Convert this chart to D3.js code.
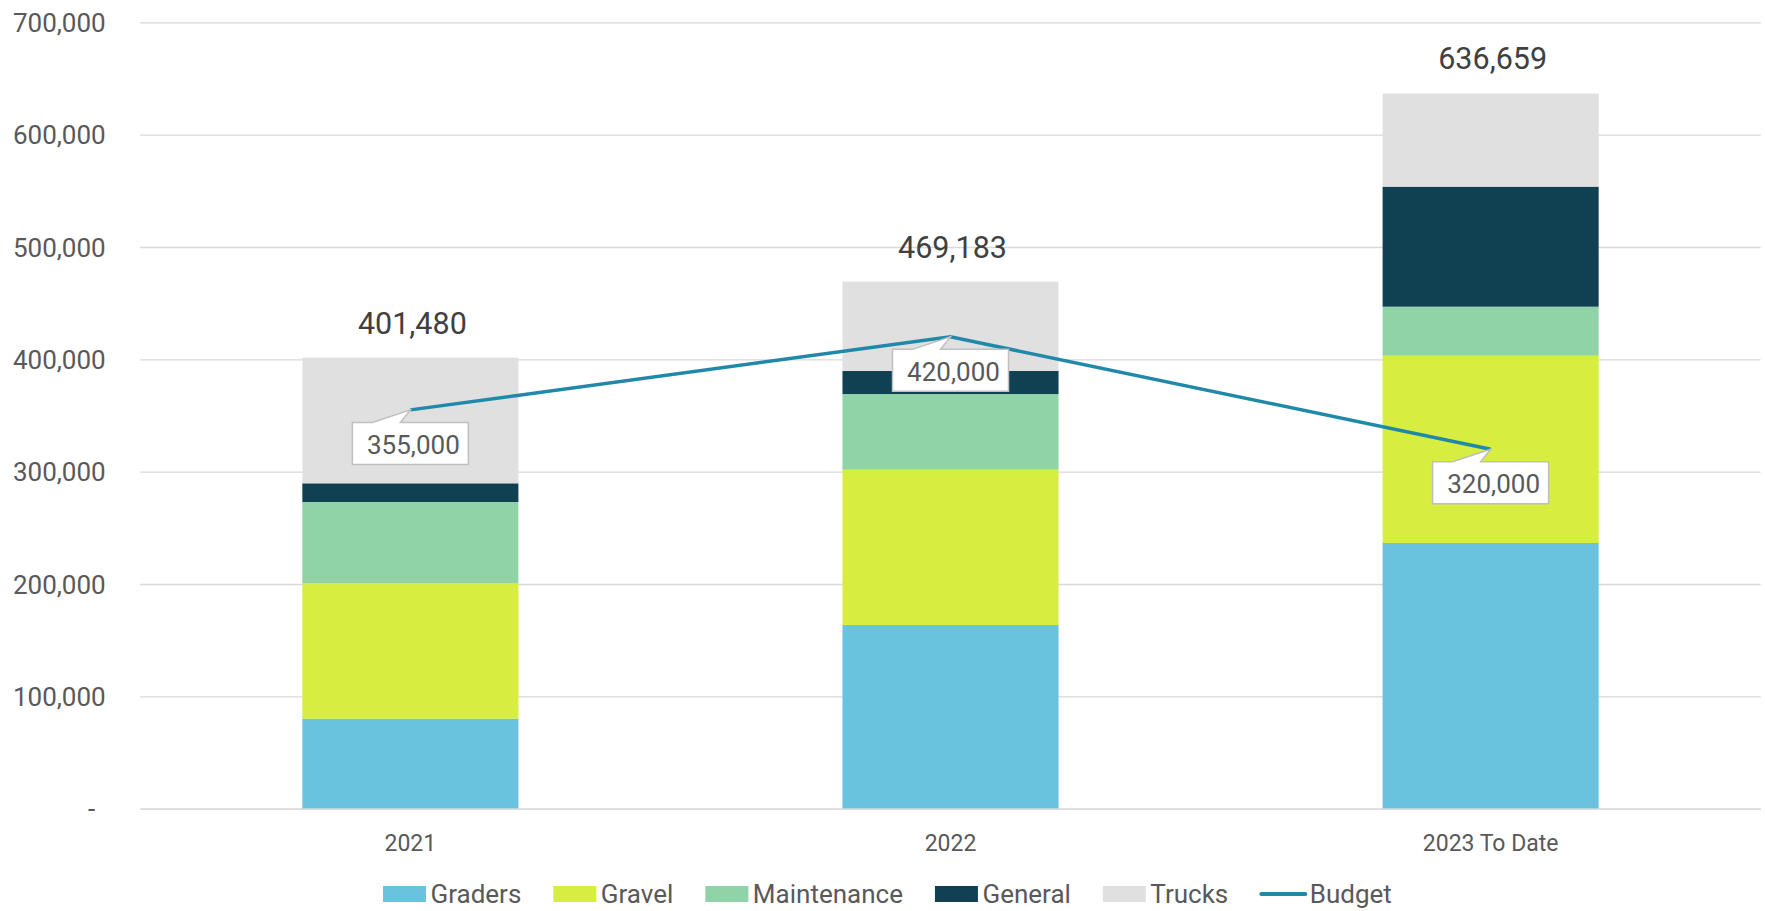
<!DOCTYPE html>
<html>
<head>
<meta charset="utf-8">
<script src="https://cdn.jsdelivr.net/npm/d3@7"></script>
<style>
  body { margin: 0; background: #fff; }
  text { font-family: Roboto, "Noto Sans", sans-serif; }
</style>
</head>
<body>
<div id="graph"></div>
<script>
// categories and series
var years = ["2021", "2022", "2023 To Date"];
var seriesNames = ["Graders", "Gravel", "Maintenance", "General", "Trucks"];

// stacked values
var graders = [80100, 163500, 236500];
var gravel = [120500, 138250, 166700];
var maintenance = [72400, 67350, 43650];
var general = [16650, 20500, 106850];
var trucks = [111830, 79583, 82959];

// budget line
var budget = [355000, 420000, 320000];

var yTicks = [0, 100000, 200000, 300000, 400000, 500000, 600000, 700000];

var colors = ["#69c3df", "#d7ed3f", "#8fd3a6", "#104152", "#e0e0e0"];
var lineColor = "#2089a9";

var width = 1765;
var height = 911;

// build rows for d3.stack
var rows = years.map(function(yr, i) {
    return {
        year: yr,
        Graders: graders[i],
        Gravel: gravel[i],
        Maintenance: maintenance[i],
        General: general[i],
        Trucks: trucks[i]
    };
});
var totals = rows.map(function(r) {
    return d3.sum(seriesNames, function(k) { return r[k]; });
});

var stacked = d3.stack().keys(seriesNames)(rows);

var x = d3.scaleBand()
    .domain(years)
    .range([140.3, 1760.7])
    .paddingInner(0.6)
    .paddingOuter(0.3);

var y = d3.scaleLinear()
    .domain([0, 700000])
    .range([808.7, 22.3]);

var svg = d3.select("#graph")
    .append("svg")
    .attr("width", width)
    .attr("height", height);

// y axis: gridlines + labels
var fmt = d3.format(",");
var yAxis = svg.append("g")
    .attr("transform", "translate(140.3,0)")
    .call(d3.axisLeft(y)
        .tickValues(yTicks)
        .tickSize(-1620.4)
        .tickPadding(34.6)
        .tickFormat(function(d) { return d === 0 ? "-" : fmt(d); }));
yAxis.select(".domain").remove();
yAxis.selectAll(".tick line")
    .attr("stroke", "#d9d9d9")
    .attr("stroke-width", 1.3);
yAxis.selectAll(".tick text")
    .attr("fill", "#595959")
    .style("font-size", "26px")
    .style("font-family", "Roboto")
    .attr("dy", "0.355em");
// accounting-style dash sits a little left
yAxis.selectAll(".tick text")
    .filter(function(d) { return d === 0; })
    .attr("x", -45);

// bars
svg.append("g")
    .selectAll("g")
    .data(stacked)
    .enter()
    .append("g")
    .attr("fill", function(d, i) { return colors[i]; })
    .selectAll("rect")
    .data(function(d) { return d; })
    .enter()
    .append("rect")
    .attr("x", function(d) { return x(d.data.year); })
    .attr("y", function(d) { return y(d[1]); })
    .attr("height", function(d) { return y(d[0]) - y(d[1]); })
    .attr("width", x.bandwidth());

// x axis
var xAxis = svg.append("g")
    .attr("transform", "translate(0," + y(0) + ")")
    .call(d3.axisBottom(x).tickSize(0).tickPadding(26));
xAxis.select(".domain")
    .attr("stroke", "#d9d9d9")
    .attr("stroke-width", 1.3);
xAxis.selectAll(".tick text")
    .attr("fill", "#595959")
    .style("font-size", "23px")
    .style("font-family", "Roboto");

// totals above bars
svg.append("g")
    .selectAll("text")
    .data(totals)
    .enter()
    .append("text")
    .attr("x", function(d, i) { return x(years[i]) + x.bandwidth() / 2 + 2; })
    .attr("y", function(d) { return y(d) - 24; })
    .attr("text-anchor", "middle")
    .attr("fill", "#404040")
    .style("font-size", "30.5px")
    .text(function(d) { return fmt(d); });

// budget line
var line = d3.line()
    .x(function(d, i) { return x(years[i]) + x.bandwidth() / 2; })
    .y(function(d) { return y(d); });

svg.append("path")
    .datum(budget)
    .attr("d", line)
    .attr("fill", "none")
    .attr("stroke", lineColor)
    .attr("stroke-width", 3.5);

// callouts under each budget point
var boxW = 116, boxH = 42, gap = 12.5;
var callout = svg.append("g")
    .selectAll("g")
    .data(budget)
    .enter()
    .append("g")
    .attr("transform", function(d, i) {
        return "translate(" + (x(years[i]) + x.bandwidth() / 2) + "," + y(d) + ")";
    });

callout.append("path")
    .attr("d", function() {
        var l = -boxW / 2, r = boxW / 2, t = gap, b = gap + boxH;
        return "M" + l + "," + t + "L" + (-38) + "," + t + "L0,0L" + (-10) + "," + t +
            "L" + r + "," + t + "L" + r + "," + b + "L" + l + "," + b + "Z";
    })
    .attr("fill", "#fff")
    .attr("stroke", "#bfbfbf")
    .attr("stroke-width", 1.5);

callout.append("text")
    .attr("x", 3)
    .attr("y", gap + 31.6)
    .attr("text-anchor", "middle")
    .attr("fill", "#595959")
    .style("font-size", "26px")
    .text(function(d) { return fmt(d); });

// legend
var legendItems = seriesNames.concat(["Budget"]);
var legend = svg.append("g").attr("transform", "translate(0,894)");
var lx = 383;
var swW = 43, swGap = 4.5, itemGap = 32;
legendItems.forEach(function(name, i) {
    var g = legend.append("g").attr("transform", "translate(" + lx + ",0)");
    if (i < seriesNames.length) {
        g.append("rect")
            .attr("x", 0)
            .attr("y", -8)
            .attr("width", swW)
            .attr("height", 16)
            .attr("fill", colors[i]);
    } else {
        g.append("line")
            .attr("x1", 1).attr("x2", swW + 2)
            .attr("y1", 0).attr("y2", 0)
            .attr("stroke", lineColor)
            .attr("stroke-width", 4)
            .attr("stroke-linecap", "round");
    }
    var tx = i < seriesNames.length ? swW + swGap : swW + swGap + 2;
    var t = g.append("text")
        .attr("x", tx)
        .attr("dy", "0.355em")
        .attr("fill", "#595959")
        .style("font-size", "26px")
        .text(name);
    lx += tx + t.node().getComputedTextLength() + itemGap;
});
</script>
</body>
</html>
